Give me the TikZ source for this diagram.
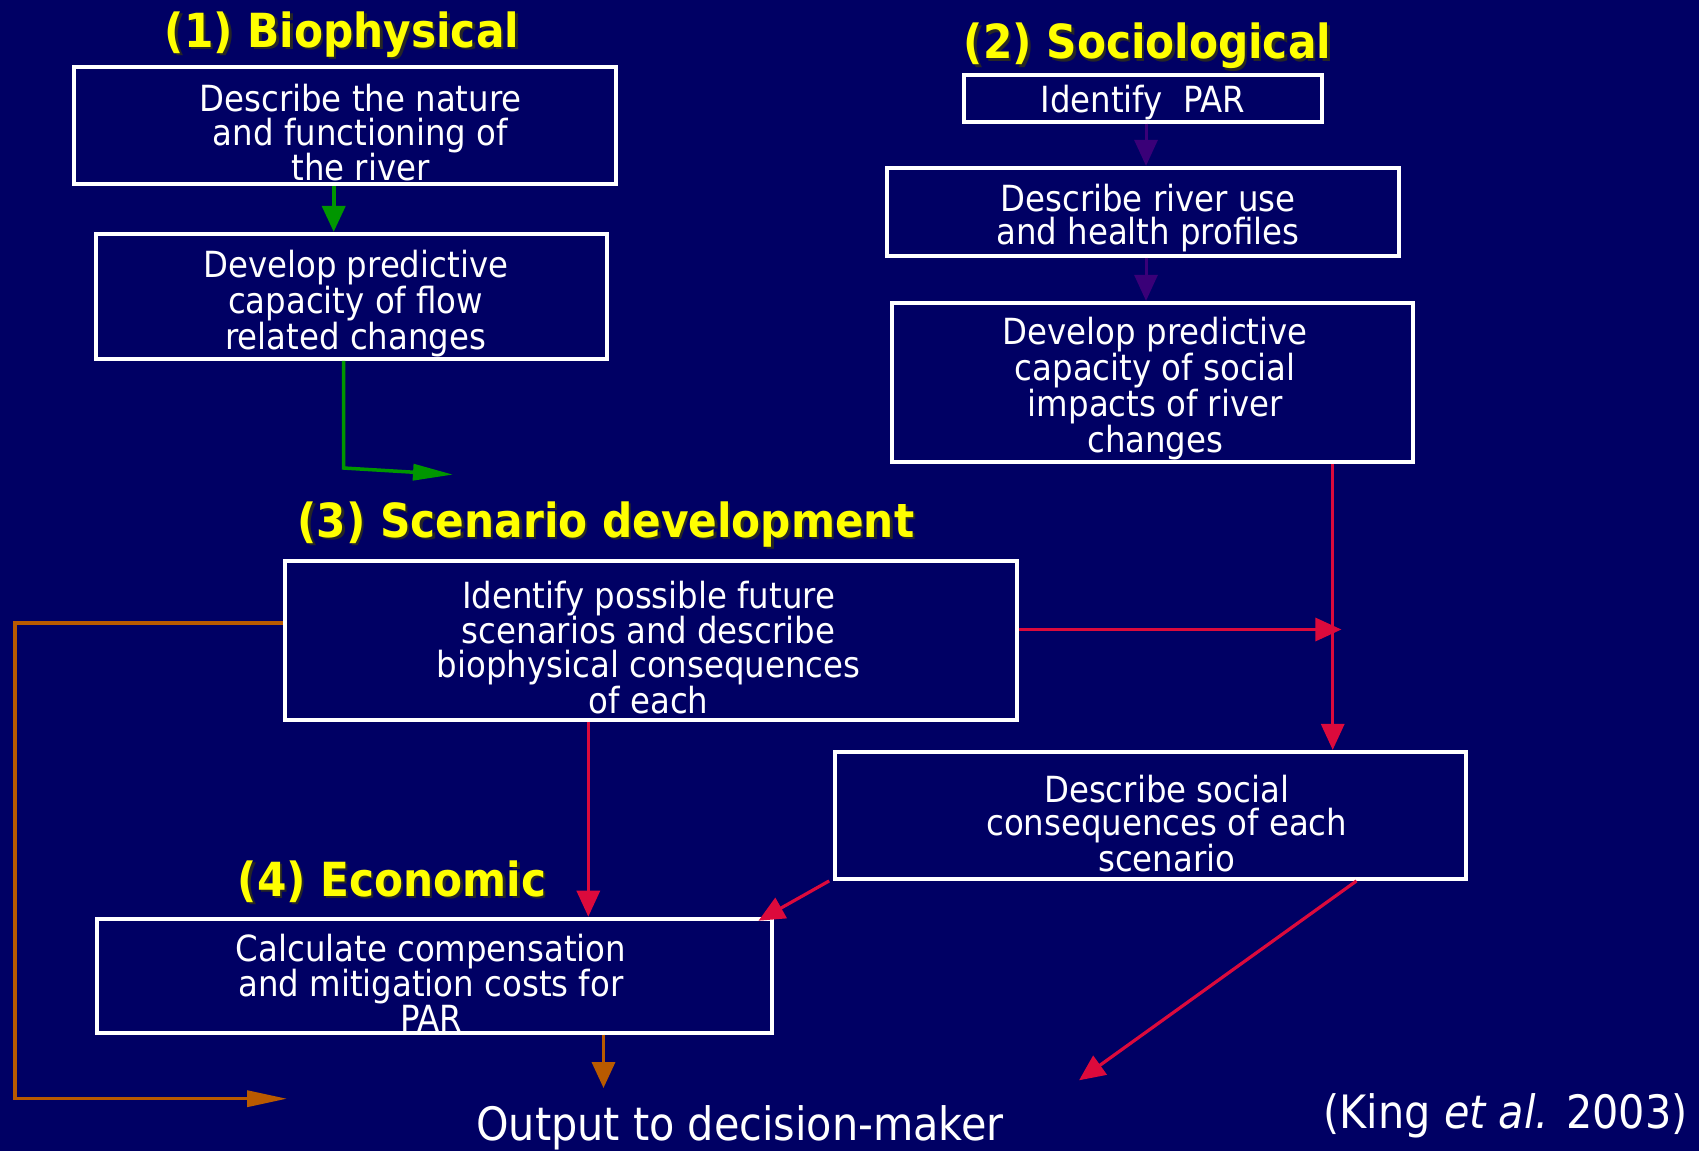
\documentclass[tikz,border=0pt]{standalone}
\usepackage{fontspec}
\setmainfont{DejaVu Sans Condensed}
\usetikzlibrary{arrows.meta,calc}
\definecolor{navy}{RGB}{0,0,100}
\definecolor{flowgreen}{RGB}{0,150,0}
\definecolor{flowpurple}{RGB}{58,0,120}
\definecolor{flowred}{RGB}{220,10,60}
\definecolor{flowbrown}{RGB}{185,90,0}
\definecolor{titleyellow}{RGB}{255,255,0}
\tikzset{
  stepbox/.style={draw=white, line width=4pt, inner sep=0pt},
  boxtext/.style={text=white, align=center, inner sep=0pt, yshift=-7pt,
    font=\fontsize{36}{33.6}\selectfont},
  headtext/.style={text=titleyellow, inner sep=0pt, anchor=base, font=\bfseries\fontsize{47}{52}\selectfont},
  headshadow/.style={text=black!85, inner sep=0pt, anchor=base, font=\bfseries\fontsize{47}{52}\selectfont},
  plaintext/.style={text=white, inner sep=0pt, anchor=base, font=\fontsize{46}{52}\selectfont},
  tip/.style={-{Triangle[length=26pt,width=23pt]}},
  longtip/.style={-{Triangle[length=40pt,width=16pt]}},
}
\begin{document}
\begin{tikzpicture}[x=1pt,y=-1pt]
\fill[navy] (0,0) rectangle (1699,1151);
\useasboundingbox (0,0) rectangle (1699,1151);

% section headings (shadow first, then yellow text)
\node[headshadow] (h1s) at (344.5,49.5) {(1) Biophysical};
\node[headtext]   (h1)  at (342,47) {(1) Biophysical};
\node[headshadow] (h2s) at (1150,61) {(2) Sociological};
\node[headtext]   (h2)  at (1147.5,58.5) {(2) Sociological};
\node[headshadow] (h3s) at (608.5,539.5) {(3) Scenario development};
\node[headtext]   (h3)  at (606,537) {(3) Scenario development};
\node[headshadow] (h4s) at (394.5,898.5) {(4) Economic};
\node[headtext]   (h4)  at (392,896) {(4) Economic};

% biophysical column
\node[stepbox, minimum width=542pt, minimum height=117pt,
  label={[boxtext, xshift=16pt]center:Describe the nature\\and functioning of\\the river}]
  (b1) at (344.5,125.7) {};
\node[stepbox, minimum width=511pt, minimum height=125pt,
  label={[boxtext, xshift=4pt]center:Develop predictive\\capacity of flow\\related changes}]
  (b2) at (351.7,296.4) {};

% sociological column
\node[stepbox, minimum width=358pt, minimum height=47pt,
  label={[boxtext, yshift=2pt]center:Identify\ \ PAR}]
  (s1) at (1143,98) {};
\node[stepbox, minimum width=512pt, minimum height=88pt,
  label={[boxtext, xshift=5pt, yshift=1pt]center:Describe river use\\and health profiles}]
  (s2) at (1143,211.9) {};
\node[stepbox, minimum width=521pt, minimum height=159pt,
  label={[boxtext, xshift=3pt, yshift=1pt]center:Develop predictive\\capacity of social\\impacts of river\\changes}]
  (s3) at (1152.3,382.4) {};

% scenarios, social consequences, economics
\node[stepbox, minimum width=732pt, minimum height=159pt,
  label={[boxtext, xshift=-2pt]center:Identify possible future\\scenarios and describe\\biophysical consequences\\of each}]
  (sc) at (650.7,640.3) {};
\node[stepbox, minimum width=631pt, minimum height=127pt,
  label={[boxtext, xshift=16pt, yshift=-1pt]center:Describe social\\consequences of each\\scenario}]
  (so) at (1150.7,815.4) {};
\node[stepbox, minimum width=675pt, minimum height=114pt,
  label={[boxtext, xshift=-3pt]center:Calculate compensation\\and mitigation costs for\\PAR}]
  (ec) at (434,975.7) {};

% footer texts
\node[plaintext] (out) at (740,1140) {Output to decision-maker};
\node[plaintext, anchor=base east] (ref) at (1688,1128) {(King \textit{et al.} 2003)};

% helper coordinates for connector positions
\coordinate (gx1) at (333.7,0);
\coordinate (gx2) at (343.5,0);
\coordinate (gbend) at (343.5,468);
\coordinate (gend) at (453,474.6);
\coordinate (px) at (1146,0);
\coordinate (rx1) at (1332.7,0);
\coordinate (ry1) at (0,629.5);
\coordinate (rend) at (1341.4,629.5);
\coordinate (rx2) at (588.3,0);
\coordinate (rx3) at (1356.5,0);
\coordinate (rend2) at (1079,1080.3);
\coordinate (ry2) at (0,623);
\coordinate (bcorner) at (15.2,623);
\coordinate (bbottom) at (15.2,1098.7);
\coordinate (bend) at (287,1098.7);
\coordinate (bx) at (603.5,0);
\coordinate (bend2) at (603.5,1088);

% green connectors
\draw[flowgreen, line width=4pt, tip] (b1.south -| gx1) -- (b2.north -| gx1);
\draw[flowgreen, line width=3.5pt, longtip] (b2.south -| gx2) -- (gbend) -- (gend);

% purple connectors
\draw[flowpurple, line width=3pt, tip] (s1.south -| px) -- (s2.north -| px);
\draw[flowpurple, line width=3pt, tip] (s2.south -| px) -- (s3.north -| px);

% red connectors
\draw[flowred, line width=3.2pt, tip] (s3.south -| rx1) -- (so.north -| rx1);
\draw[flowred, line width=3.2pt, tip] (sc.east |- ry1) -- (rend);
\draw[flowred, line width=3.2pt, tip] (sc.south -| rx2) -- (ec.north -| rx2);
\draw[flowred, line width=3.2pt, tip] ($(so.south west)+(-4,0)$) -- ($(ec.north east)+(-15,4)$);
\draw[flowred, line width=3.2pt, tip] (so.south -| rx3) -- (rend2);

% brown connectors
\draw[flowbrown, line width=3.5pt, longtip] (sc.west |- ry2) -- (bcorner) -- (bbottom) -- (bend);
\draw[flowbrown, line width=3.5pt, tip] (ec.south -| bx) -- (bend2);
\end{tikzpicture}
\end{document}
